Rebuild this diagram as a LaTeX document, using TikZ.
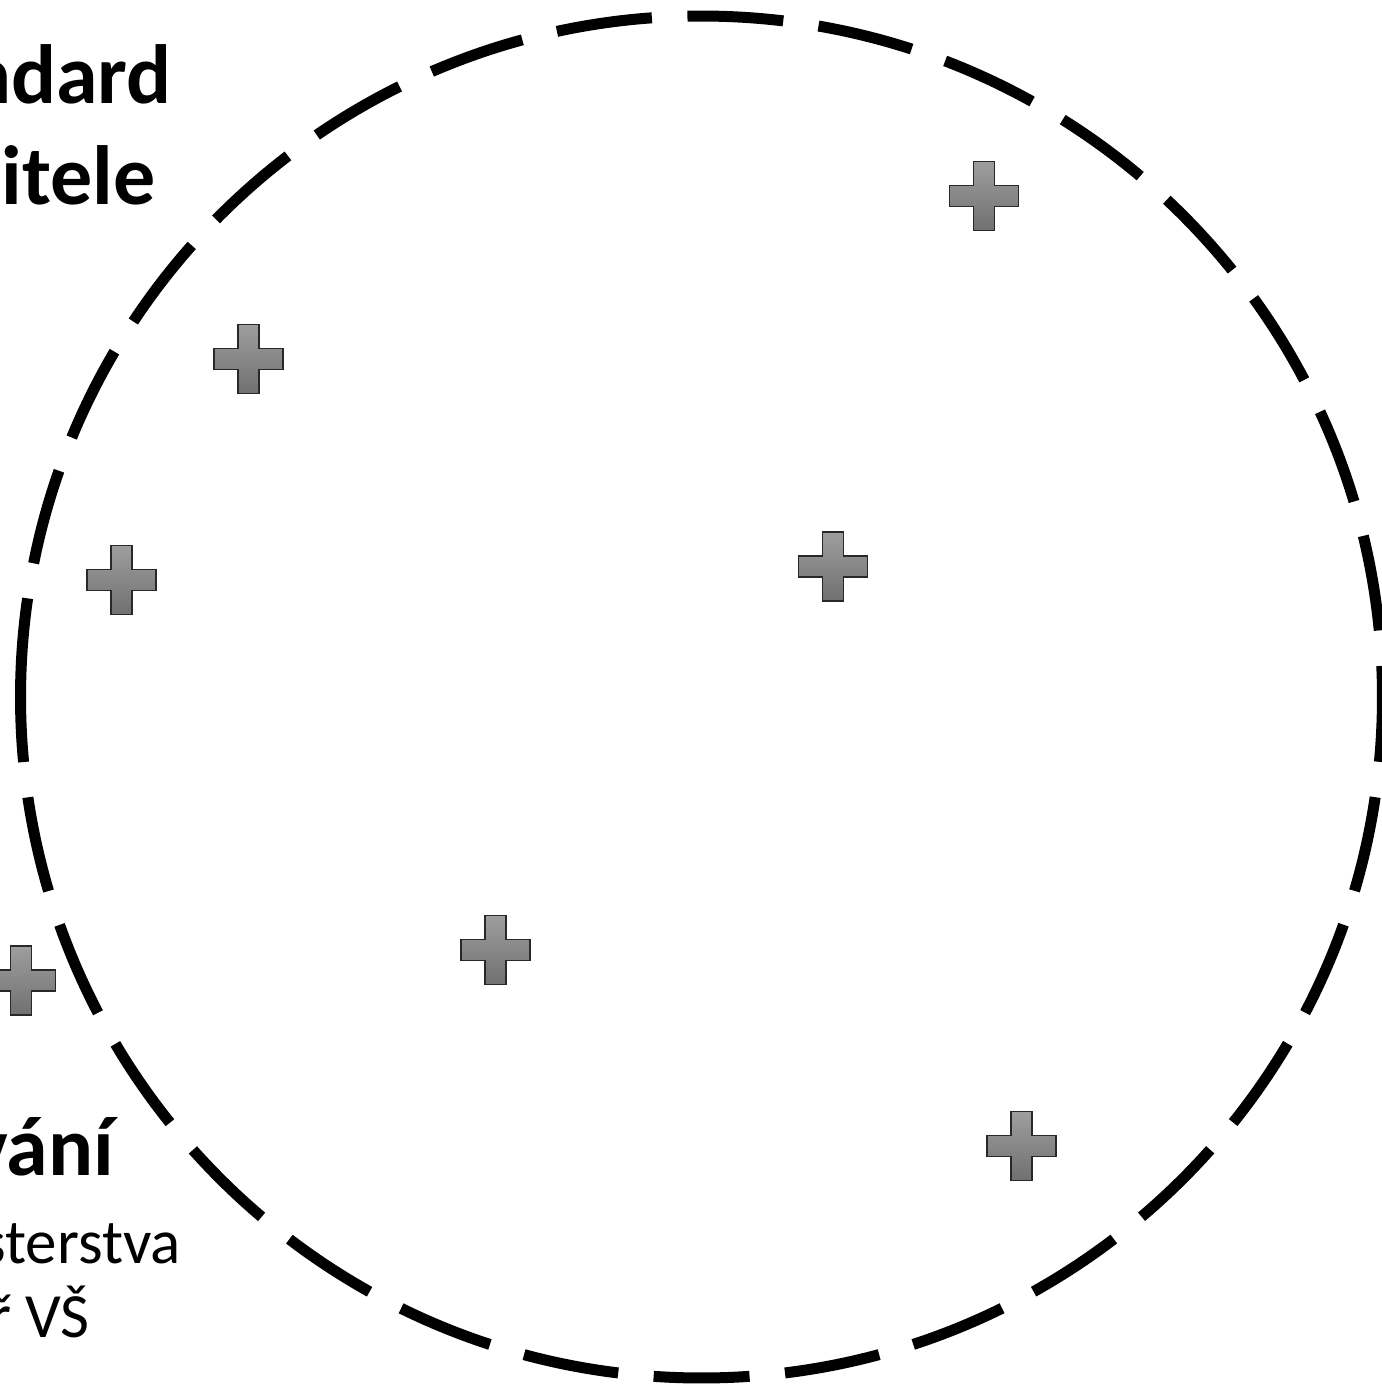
\documentclass[tikz,border=0pt]{standalone}
\usepackage{fontspec}
\setmainfont{Carlito}
\definecolor{plustop}{RGB}{158,158,158}
\definecolor{plusbot}{RGB}{112,112,112}
\definecolor{plusline}{RGB}{40,40,40}
\begin{document}
\begin{tikzpicture}[x=1pt,y=-1pt,
  ring/.style={line width=11pt, dash pattern=on 96pt off 35.6pt},
  boldtxt/.style={font=\fontsize{84}{98}\selectfont\bfseries, inner sep=0pt, anchor=base east},
  regtxt/.style={font=\fontsize{63}{74}\selectfont, inner sep=0pt, anchor=base east},
  plussign/.pic={
    \draw[line width=1.4pt, draw=plusline, top color=plustop, bottom color=plusbot]
      (-10.5,-34.5) -- (10.5,-34.5) -- (10.5,-10.5) -- (34.5,-10.5) -- (34.5,10.5)
      -- (10.5,10.5) -- (10.5,34.5) -- (-10.5,34.5) -- (-10.5,10.5) -- (-34.5,10.5)
      -- (-34.5,-10.5) -- (-10.5,-10.5) -- cycle;
  }
]
\useasboundingbox (0,0) rectangle (1382,1385);
\fill[white] (0,0) rectangle (1382,1385);

% dashed circle
\coordinate (ctr) at (701.5,697);
\draw[ring] (ctr) ++(180.25:681) arc[start angle=180.25, end angle=540.25, radius=681];

% plus signs
\pic (p1) at (984,196) {plussign};
\pic (p2) at (248.5,359) {plussign};
\pic (p3) at (121.5,580) {plussign};
\pic (p4) at (833,566.5) {plussign};
\pic (p5) at (495.5,950) {plussign};
\pic (p6) at (21,980.5) {plussign};
\pic (p7) at (1021.5,1146) {plussign};

% texts
\node[boldtxt] (t1) at (172,103) {ndard};
\node[boldtxt] (t2) at (156,204) {itele};
\node[boldtxt] (t3) at (114,1175) {vání};
\node[regtxt] (t4) at (181,1263) {sterstva};
\node[regtxt] (t5) at (90,1337) {ř VŠ};
\end{tikzpicture}
\end{document}
